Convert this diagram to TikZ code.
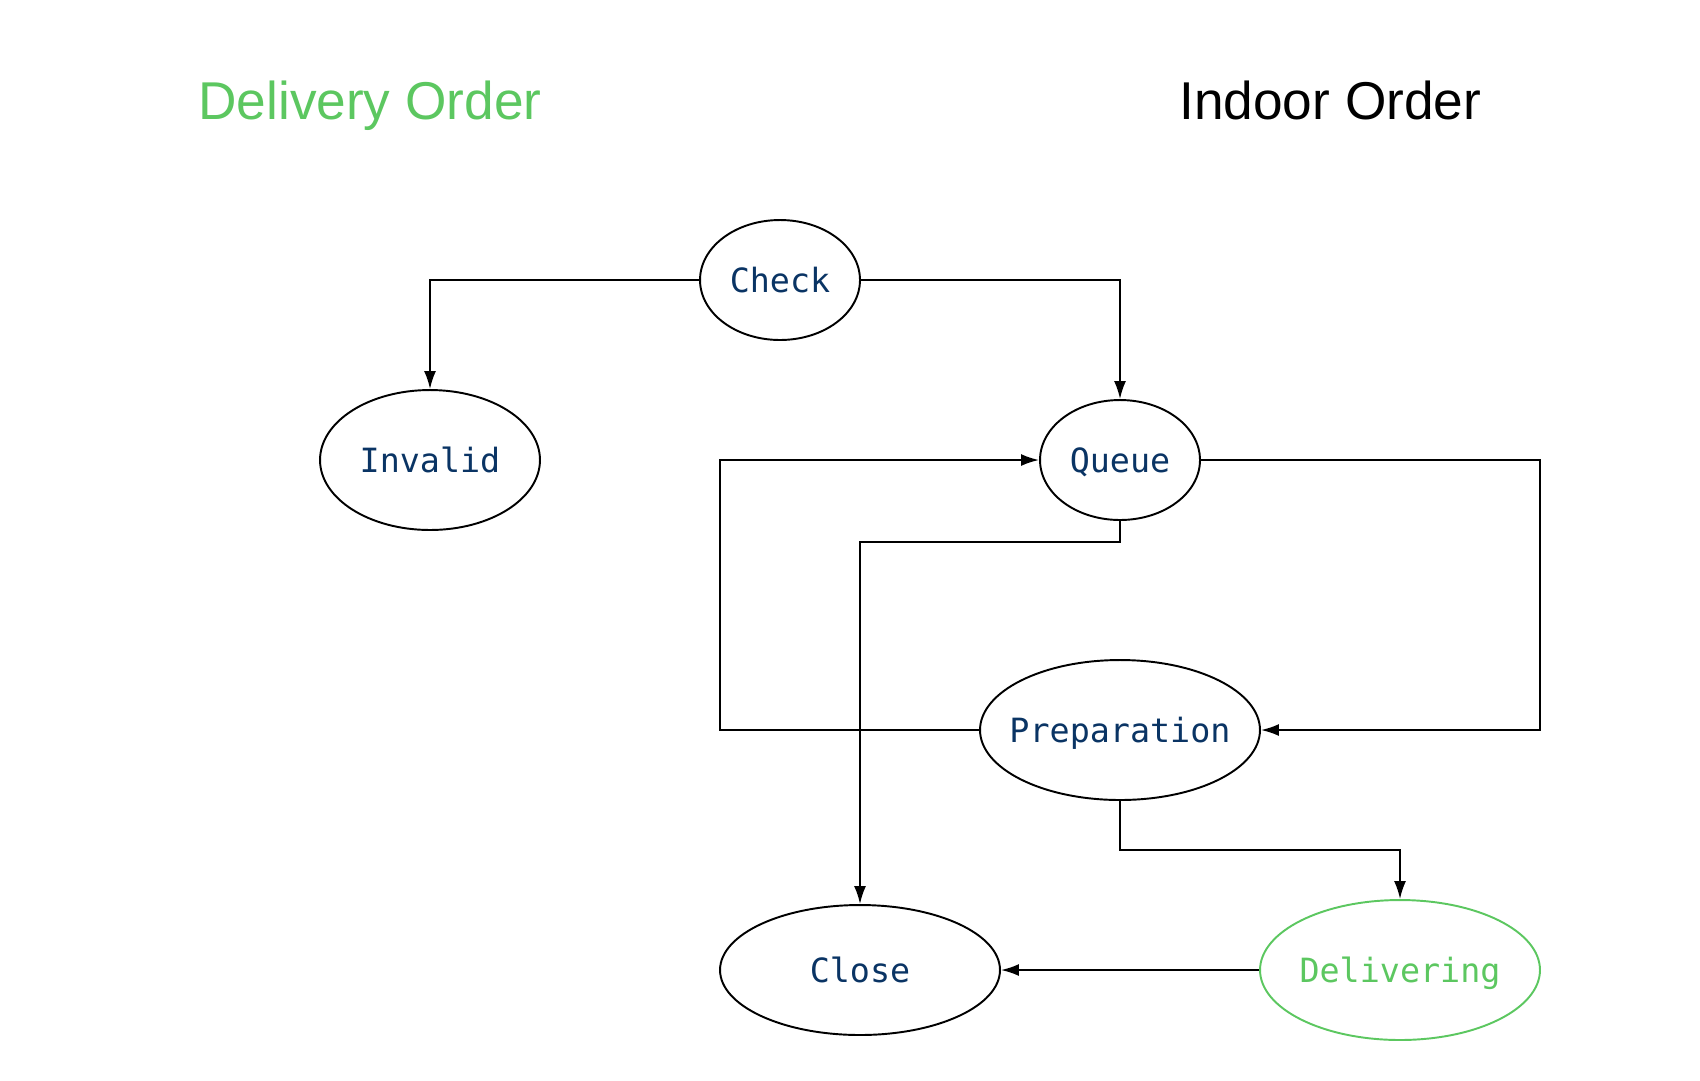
\documentclass[tikz,border=0pt]{standalone}
\usepackage{fontspec}
\setmainfont{Liberation Sans}
\setmonofont{DejaVu Sans Mono}
\usetikzlibrary{arrows.meta,shapes.geometric}
\definecolor{ordergreen}{RGB}{92,199,96}
\definecolor{statenavy}{RGB}{10,52,100}

\begin{document}
\begin{tikzpicture}[x=0.02cm,y=-0.02cm,
  state/.style={draw, ellipse, line width=1.1pt, inner ysep=0pt, inner xsep=-0.4cm, text height=0.49cm, text depth=0pt, text=statenavy, font=\ttfamily\fontsize{19}{21}\selectfont},
  link/.style={-{Latex[length=0.36cm,width=0.24cm]}, line width=1.1pt},
  title/.style={anchor=base west, inner sep=0pt, font=\fontsize{30.3}{34}\selectfont}]
\useasboundingbox (0,0) rectangle (1700,1080);
\node[title, text=ordergreen] (deliverytitle) at (198,119) {Delivery Order};
\node[title] (indoortitle) at (1179,119) {Indoor Order};
\node[state, minimum width=3.2cm, minimum height=2.4cm] (check) at (780,280) {Check};
\node[state, minimum width=4.4cm, minimum height=2.8cm] (invalid) at (430,460) {Invalid};
\node[state, minimum width=3.2cm, minimum height=2.4cm] (queue) at (1120,460) {Queue};
\node[state, minimum width=5.6cm, minimum height=2.8cm] (prep) at (1120,730) {Preparation};
\node[state, minimum width=5.6cm, minimum height=2.6cm] (close) at (860,970) {Close};
\node[state, minimum width=5.6cm, minimum height=2.8cm, draw=ordergreen, text=ordergreen] (delivering) at (1400,970) {Delivering};
\coordinate (rbend) at (1540,0);
\coordinate (lbend) at (720,0);
\coordinate (qdrop) at (0,542);
\coordinate (pdrop) at (0,850);
\draw[link] (check.west) -| (invalid.north);
\draw[link] (check.east) -| (queue.north);
\draw[link] (queue.east) -- (queue.east -| rbend) -- (prep.east -| rbend) -- (prep.east);
\draw[link] (prep.west) -- (prep.west -| lbend) -- (queue.west -| lbend) -- (queue.west);
\draw[link] (queue.south) -- (queue.south |- qdrop) -| (close.north);
\draw[link] (prep.south) -- (prep.south |- pdrop) -| (delivering.north);
\draw[link] (delivering.west) -- (close.east);
\end{tikzpicture}
\end{document}
